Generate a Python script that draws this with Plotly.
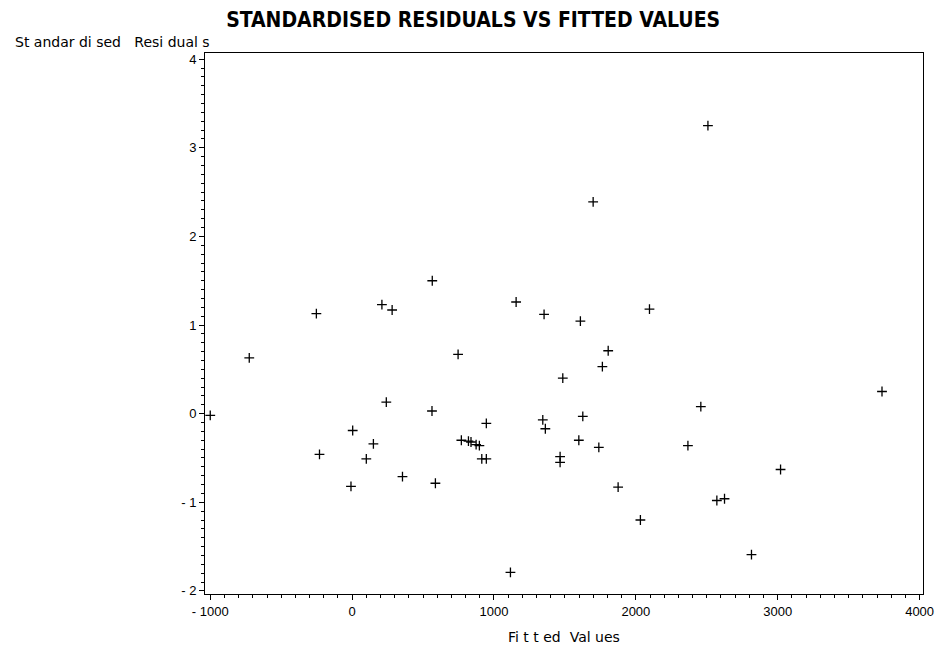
import plotly.graph_objects as go

# Fitted values and standardised residuals
fitted = [-1000, -725, -252, -230, -8, 4, 100, 150, 210, 241, 282, 355,
          565, 563, 587, 747, 770, 820, 838, 874, 897, 914, 946, 946,
          1116, 1156, 1344, 1353, 1362, 1466, 1466, 1485, 1598, 1609, 1626,
          1699, 1739, 1764, 1805, 1875, 2032, 2096, 2367, 2458, 2508, 2571,
          2625, 2815, 3020, 3735]
residuals = [-0.02, 0.63, 1.13, -0.46, -0.82, -0.19, -0.51, -0.34, 1.23, 0.13, 1.17, -0.71,
             1.50, 0.03, -0.785, 0.67, -0.30, -0.31, -0.32, -0.35, -0.36, -0.51, -0.51, -0.11,
             -1.79, 1.26, -0.07, 1.12, -0.17, -0.485, -0.55, 0.40, -0.30, 1.045, -0.03,
             2.39, -0.38, 0.53, 0.71, -0.83, -1.20, 1.18, -0.36, 0.08, 3.25, -0.98,
             -0.96, -1.59, -0.63, 0.25]

x_tickvals = [-1000, 0, 1000, 2000, 3000, 4000]
x_ticktext = ["-\u00a01000", "0", "1000", "2000", "3000", "4000"]
y_tickvals = [-2, -1, 0, 1, 2, 3, 4]
y_ticktext = ["-\u00a02", "-\u00a01", "0", "1", "2", "3", "4"]

title_text = "STANDARDISED RESIDUALS VS FITTED VALUES"
x_title = "Fi\u00a0t\u00a0t\u00a0ed\u00a0\u00a0Val\u00a0ues"
y_title = "St\u00a0andar\u00a0di\u00a0sed\u00a0\u00a0\u00a0Resi\u00a0dual\u00a0s"

W, H = 937, 645
L, R, T, B = 205, 14, 53, 51

fig = go.Figure()
fig.add_trace(go.Scatter(
    x=fitted, y=residuals, mode="markers",
    marker=dict(symbol="cross-thin", size=7, line=dict(color="black", width=1.3), color="black"),
    showlegend=False, hoverinfo="x+y",
))

tickfont = dict(family="Liberation Sans, Arial, sans-serif", size=13, color="black")
labelfont = dict(family="DejaVu Sans, sans-serif", size=14, color="black")

fig.update_layout(
    width=W, height=H, autosize=False,
    margin=dict(l=L, r=R, t=T, b=B, autoexpand=False),
    paper_bgcolor="white", plot_bgcolor="white",
    title=dict(text="<b>" + title_text + "</b>", x=0.505, xref="container", xanchor="center",
               y=1 - 20 / H, yref="container", yanchor="middle",
               font=dict(family="Liberation Sans Narrow, DejaVu Sans Condensed, Arial Narrow, sans-serif",
                         size=21, color="black")),
    xaxis=dict(
        range=[-1037, 4024], tickvals=x_tickvals, ticktext=x_ticktext, automargin=False,
        showgrid=False, zeroline=False, showline=True, linecolor="black", linewidth=1,
        mirror=True, ticks="outside", ticklen=5, tickwidth=1, tickcolor="black",
        tickfont=tickfont,
        minor=dict(dtick=100, tick0=0, ticks="outside", ticklen=3, tickwidth=1, tickcolor="black", showgrid=False),
    ),
    yaxis=dict(
        range=[-2.035, 4.07], tickvals=y_tickvals, ticktext=y_ticktext, automargin=False,
        showgrid=False, zeroline=False, showline=True, linecolor="black", linewidth=1,
        mirror=True, ticks="outside", ticklen=5, tickwidth=1, tickcolor="black",
        tickfont=tickfont,
        minor=dict(dtick=0.1, tick0=0, ticks="outside", ticklen=3, tickwidth=1, tickcolor="black", showgrid=False),
    ),
    annotations=[
        dict(text=y_title, xref="paper", yref="paper", x=0.0, y=1.0, xanchor="right", yanchor="bottom",
             xshift=7, yshift=1, showarrow=False, font=labelfont),
        dict(text=x_title, xref="paper", yref="paper", x=0.5, y=0.0, xanchor="center", yanchor="middle",
             yshift=-43, showarrow=False, font=labelfont),
    ],
)

fig.write_html("out.html")
